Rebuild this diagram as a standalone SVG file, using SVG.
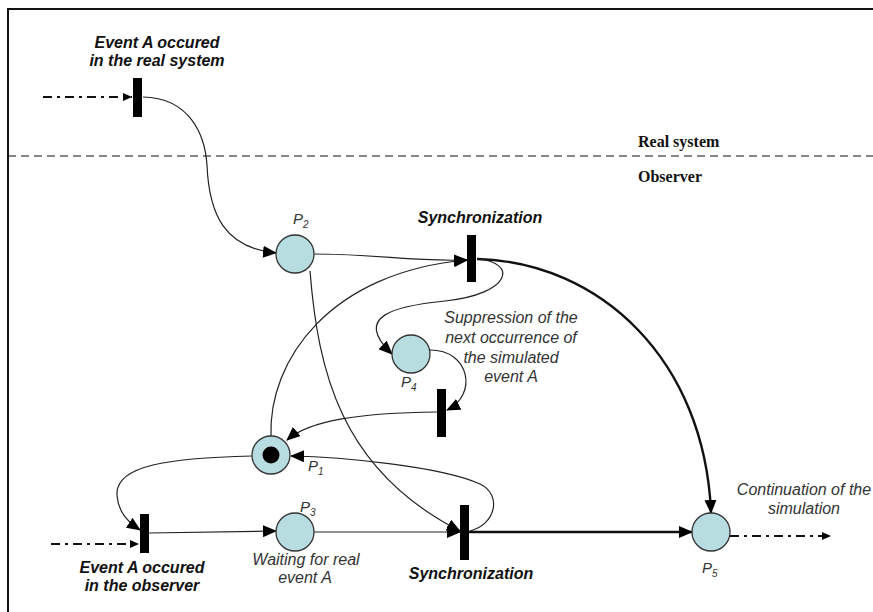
<svg xmlns="http://www.w3.org/2000/svg" width="873" height="612" viewBox="0 0 873 612">
<style>
.place{fill:#b8dde0;stroke:#333;stroke-width:1.3}
.bar{fill:#000}
.arc{fill:none;stroke:#222;stroke-width:1.2}
.thick{fill:none;stroke:#111;stroke-width:2.4}
.dd{fill:none;stroke:#111;stroke-width:2.2;stroke-dasharray:9,5,3,5}
.bi{font-family:"Liberation Sans",Arial,sans-serif;font-weight:bold;font-style:italic;font-size:16px;fill:#111;text-anchor:middle}
.it{font-family:"Liberation Sans",Arial,sans-serif;font-style:italic;font-size:16px;fill:#333;text-anchor:middle}
.pl{font-family:"Liberation Sans",Arial,sans-serif;font-style:italic;font-size:15px;fill:#333}
.pls{font-size:10px}
.sv{font-family:"Liberation Serif","Times New Roman",serif;font-weight:bold;font-size:16px;fill:#111}
</style>
<defs>
<marker id="ah" markerUnits="userSpaceOnUse" markerWidth="14" markerHeight="12" refX="13" refY="6" orient="auto">
<path d="M0,0 L14,6 L0,12 Z" fill="#000"/>
</marker>
<marker id="ahs" markerUnits="userSpaceOnUse" markerWidth="9" markerHeight="8" refX="9" refY="4" orient="auto">
<path d="M0,0 L9,4 L0,8 Z" fill="#000"/>
</marker>
</defs>
<rect width="873" height="612" fill="#fff"/>
<g id="frame">
<path d="M8,612 L8,9 L873,9" fill="none" stroke="#111" stroke-width="2"/>
<line x1="8" y1="156" x2="873" y2="156" stroke="#111" stroke-width="1.2" stroke-dasharray="8,5"/>
<text class="sv" x="638" y="147">Real system</text>
<text class="sv" x="638" y="182">Observer</text>
</g>
<g id="connectors">
<path class="dd" d="M43,97 L132,97" marker-end="url(#ahs)"/>
<path class="arc" d="M143,97 C190,98 205,135 207,165 C209,215 225,248 276,253" marker-end="url(#ah)"/>
<path class="arc" d="M313,254 C380,254 410,262 467,260" marker-end="url(#ah)"/>
<path class="arc" d="M271,437 C268,360 330,272 467,260" marker-end="url(#ah)"/>
<path class="thick" d="M477,259 C600,262 705,360 711,513" marker-end="url(#ah)"/>
<path class="arc" d="M477,259 C518,262 512,294 445,301 C395,306 352,316 392,354" marker-end="url(#ah)"/>
<path class="arc" d="M430,350 C470,350 478,395 447,410" marker-end="url(#ah)"/>
<path class="arc" d="M437,412 C360,413 310,420 287,440" marker-end="url(#ah)"/>
<path class="arc" d="M470,531 C495,525 503,495 480,484 C440,466 340,457 291,456" marker-end="url(#ah)"/>
<path class="arc" d="M310,271 C318,370 340,470 460,531" marker-end="url(#ah)"/>
<path class="arc" d="M252,456 C170,458 115,465 117,495 C118,512 128,522 140,530" marker-end="url(#ah)"/>
<path class="dd" d="M51,544 L139,544" marker-end="url(#ahs)"/>
<path class="arc" d="M149,533 L276,531" marker-end="url(#ah)"/>
<path class="arc" d="M314,532 L460,532" marker-end="url(#ah)"/>
<path class="thick" d="M469,532 L692,532" stroke-width="2" marker-end="url(#ah)"/>
<path class="dd" d="M730,536 L831,536" marker-end="url(#ahs)"/>
</g>
<g id="T0">
<rect class="bar" x="133" y="78" width="9" height="39"/>
<text class="bi" x="157" y="48">Event A occured</text>
<text class="bi" x="157" y="66">in the real system</text>
</g>
<g id="P2">
<circle class="place" cx="295" cy="254" r="19"/>
<text class="pl" x="293" y="224">P<tspan class="pls" dy="4">2</tspan></text>
</g>
<g id="T1">
<rect class="bar" x="467" y="235" width="9" height="47"/>
<text class="bi" x="480" y="223">Synchronization</text>
</g>
<g id="P4">
<circle class="place" cx="411" cy="354" r="19"/>
<text class="pl" x="401" y="387">P<tspan class="pls" dy="4">4</tspan></text>
<text class="it" x="511" y="323">Suppression of the</text>
<text class="it" x="511" y="343">next occurrence of</text>
<text class="it" x="511" y="363">the simulated</text>
<text class="it" x="511" y="382">event A</text>
</g>
<g id="T2">
<rect class="bar" x="437" y="389" width="9" height="48"/>
</g>
<g id="P1">
<circle class="place" cx="271" cy="455" r="19"/>
<circle cx="271" cy="455" r="8.5" fill="#000"/>
<text class="pl" x="308" y="471">P<tspan class="pls" dy="4">1</tspan></text>
</g>
<g id="T4">
<rect class="bar" x="140" y="514" width="9" height="39"/>
<text class="bi" x="142" y="573">Event A occured</text>
<text class="bi" x="142" y="591">in the observer</text>
</g>
<g id="P3">
<circle class="place" cx="295" cy="532" r="19"/>
<text class="pl" x="300" y="512">P<tspan class="pls" dy="4">3</tspan></text>
<text class="it" x="306" y="565">Waiting for real</text>
<text class="it" x="305" y="583">event A</text>
</g>
<g id="T3">
<rect class="bar" x="460" y="505" width="9" height="55"/>
<text class="bi" x="471" y="579">Synchronization</text>
</g>
<g id="P5">
<circle class="place" cx="711" cy="532" r="19"/>
<text class="pl" x="702" y="573">P<tspan class="pls" dy="4">5</tspan></text>
<text class="it" x="804" y="495">Continuation of the</text>
<text class="it" x="804" y="514">simulation</text>
</g>
</svg>
